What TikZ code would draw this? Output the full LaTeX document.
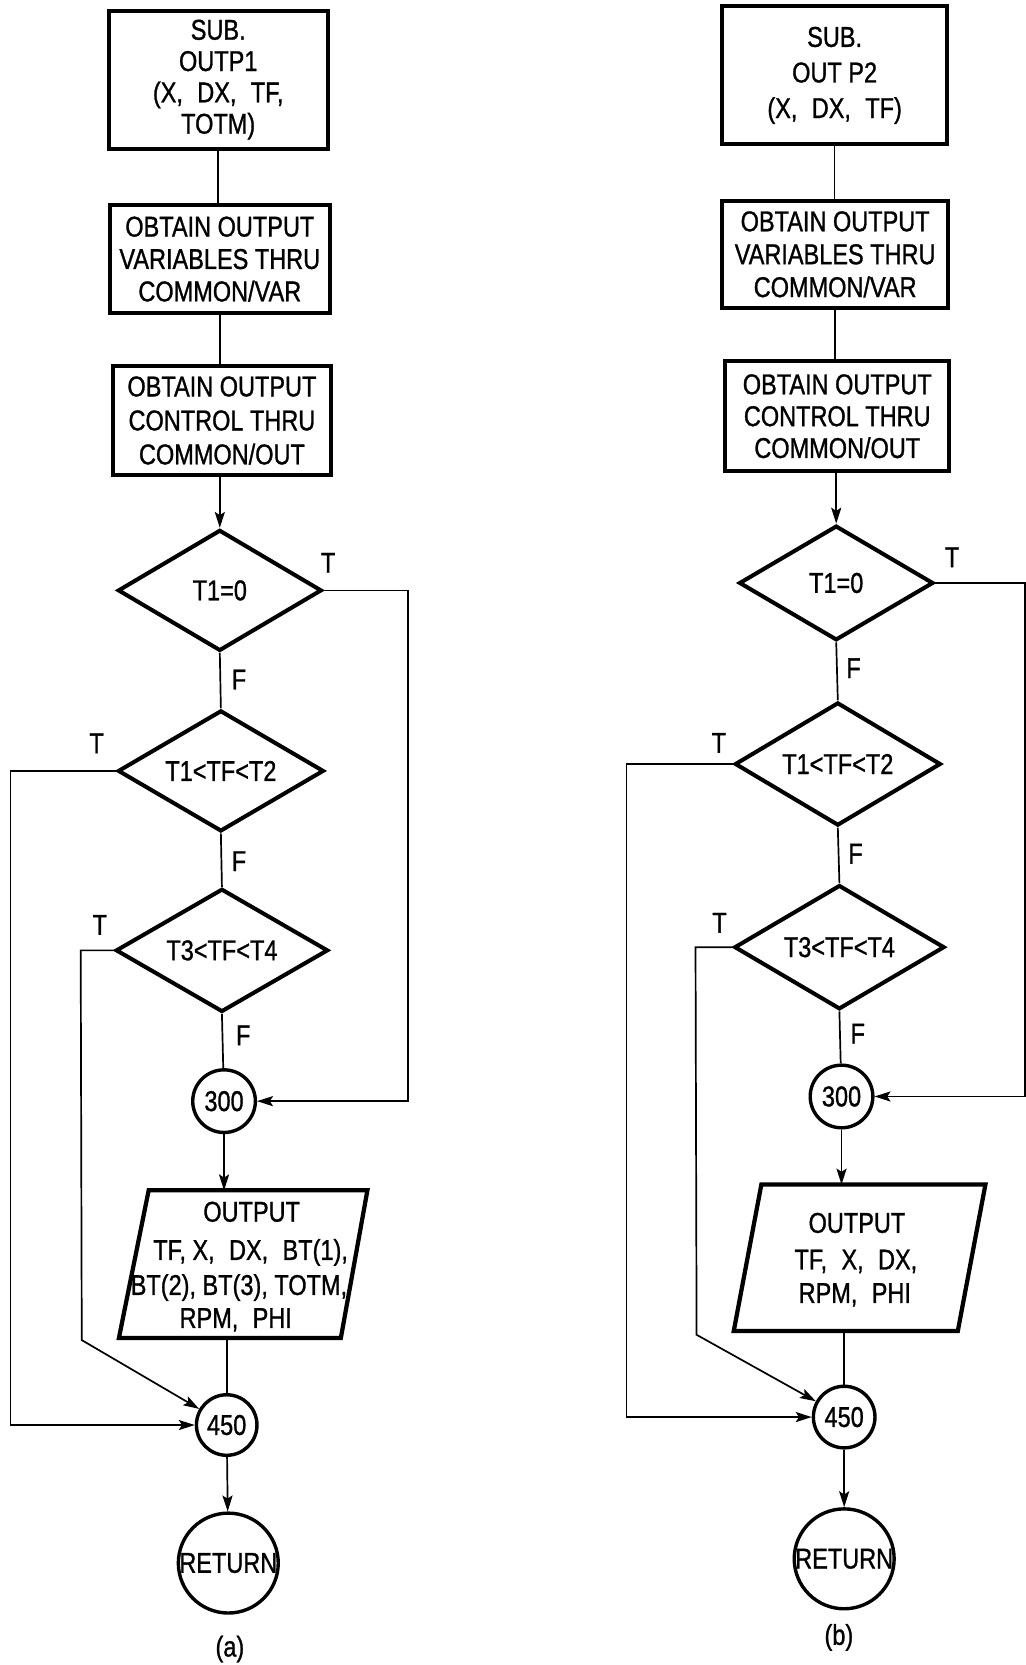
\documentclass[tikz,border=0pt]{standalone}
\usepackage{fontspec}
\setmainfont{Liberation Sans}[FakeStretch=0.82,FakeBold=1]
\usetikzlibrary{shapes.geometric,arrows.meta}
\begin{document}
\begin{tikzpicture}[x=1pt,y=-1pt,
  every node/.style={font=\fontsize{27}{31}\selectfont},
  box/.style={draw, line width=3.8pt, rectangle, inner sep=0pt, align=center},
  dec/.style={draw, line width=3.8pt, diamond, aspect=1.7, inner sep=0pt},
  con/.style={draw, line width=3.2pt, circle, inner sep=0pt},
  para/.style={draw, line width=4pt, line join=miter},
  conn/.style={line width=1.6pt},
  arr/.style={conn, -{Stealth[length=15pt,width=9.5pt,inset=3pt]}},
  lbl/.style={inner sep=0pt},
  txt/.style={inner sep=0pt, anchor=base},
]
\useasboundingbox (0,0) rectangle (966,1568);

% ---------------- (a) ----------------
\node[box, minimum width=206pt, minimum height=130pt, font=\fontsize{27}{29.5}\selectfont] (bA1) at (205.5,75)
  {SUB.\\OUTP1\\(X,\enspace DX,\enspace TF,\\TOTM)};
\node[box, minimum width=207pt, minimum height=102pt, font=\fontsize{27}{30.5}\selectfont] (bA2) at (207,244)
  {OBTAIN OUTPUT\\VARIABLES THRU\\COMMON/VAR};
\node[box, minimum width=206pt, minimum height=103pt, font=\fontsize{27}{32}\selectfont] (bA3) at (209,396)
  {OBTAIN OUTPUT\\CONTROL THRU\\COMMON/OUT};
\node[dec, minimum width=192pt, minimum height=114pt] (dA1) at (207,556) {T1=0};
\node[dec, minimum width=194pt, minimum height=114pt] (dA2) at (208,726) {T1<TF<T2};
\node[dec, minimum width=200pt, minimum height=116pt] (dA3) at (209,895) {T3<TF<T4};
\node[con, minimum size=59pt] (cA300) at (211,1037) {300};
\coordinate (pAtl) at (140,1121);
\coordinate (pAtr) at (346,1121);
\coordinate (pAbr) at (321,1260);
\coordinate (pAbl) at (112,1260);
\draw[para] (pAtl) -- (pAtr) -- (pAbr) -- (pAbl) -- cycle;
\node[txt] (oA1) at (237,1150.5) {OUTPUT};
\node[txt] (oA2) at (236,1186.5) {TF, X,\enspace DX,\enspace BT(1),};
\node[txt] (oA3) at (225,1219.5) {BT(2), BT(3), TOTM,};
\node[txt] (oA4) at (222,1250.5) {RPM,\enspace PHI};
\node[con, minimum size=57pt] (cA450) at (213.5,1342) {450};
\node[con, minimum size=93pt] (retA) at (215,1472) {RETURN};
\node[txt] (capA) at (216.5,1560) {(a)};

\node[lbl] (tA1) at (309,530) {T};
\node[lbl] (tA2) at (91,700) {T};
\node[lbl] (tA3) at (94,871) {T};
\node[lbl] (fA1) at (225,640) {F};
\node[lbl] (fA2) at (225,811) {F};
\node[lbl] (fA3) at (229,975) {F};

\coordinate (rA) at (384.5,556);
\coordinate (lA2) at (10,726);
\coordinate (lA3) at (76,895);
\coordinate (kA3) at (77,1262);

\draw[conn] (bA1.south) -- (bA1.south |- bA2.north);
\draw[conn] (bA2.south) -- (bA2.south |- bA3.north);
\draw[arr] (dA1.north |- bA3.south) -- (dA1.north);
\draw[conn] (dA1.south) -- (dA2.north);
\draw[conn] (dA2.south) -- (dA3.north);
\draw[conn] (dA3.south) -- (cA300);
\draw[arr] (cA300) -- (cA300 |- pAtl);
\draw[conn] (cA450 |- pAbl) -- (cA450);
\draw[arr] (cA450) -- (retA);
\draw[arr] (dA1.east) -- (rA) |- (cA300);
\draw[arr] (dA2.west) -- (lA2) |- (cA450);
\draw[arr] (dA3.west) -- (lA3) -- (kA3) -- (cA450);

% ---------------- (b) ----------------
\node[box, minimum width=212pt, minimum height=130pt, font=\fontsize{27}{33.5}\selectfont] (bB1) at (786,71)
  {SUB.\\OUT P2\\(X,\enspace DX,\enspace TF)};
\node[box, minimum width=213pt, minimum height=101pt, font=\fontsize{27}{31}\selectfont] (bB2) at (786.5,239.5)
  {OBTAIN OUTPUT\\VARIABLES THRU\\COMMON/VAR};
\node[box, minimum width=211pt, minimum height=104pt, font=\fontsize{27}{30}\selectfont] (bB3) at (788.5,392)
  {OBTAIN OUTPUT\\CONTROL THRU\\COMMON/OUT};
\node[dec, minimum width=183pt, minimum height=108pt] (dB1) at (787.5,549) {T1=0};
\node[dec, minimum width=194pt, minimum height=116pt] (dB2) at (789,719.5) {T1<TF<T2};
\node[dec, minimum width=198pt, minimum height=117pt] (dB3) at (790.5,892) {T3<TF<T4};
\node[con, minimum size=59pt] (cB300) at (792.5,1032.6) {300};
\coordinate (pBtl) at (717,1115.5);
\coordinate (pBtr) at (928,1115.5);
\coordinate (pBbr) at (902,1253.5);
\coordinate (pBbl) at (691,1253.5);
\draw[para] (pBtl) -- (pBtr) -- (pBbr) -- (pBbl) -- cycle;
\node[txt] (oB1) at (807,1161) {OUTPUT};
\node[txt] (oB2) at (806,1195.5) {TF,\enspace X,\enspace DX,};
\node[txt] (oB3) at (805,1227) {RPM,\enspace PHI};
\node[con, minimum size=58pt] (cB450) at (795,1334.5) {450};
\node[con, minimum size=93pt] (retB) at (795,1468) {RETURN};
\node[txt] (capB) at (790,1549) {(b)};

\node[lbl] (tB1) at (896.6,524.8) {T};
\node[lbl] (tB2) at (677,699.6) {T};
\node[lbl] (tB3) at (677.6,869) {T};
\node[lbl] (fB1) at (803.8,629.3) {F};
\node[lbl] (fB2) at (805.7,804) {F};
\node[lbl] (fB3) at (807.8,973.5) {F};

\coordinate (rB) at (965,549);
\coordinate (lB2) at (590,719.5);
\coordinate (lB3) at (655,892);
\coordinate (kB3) at (656,1257);

\draw[conn] (bB1.south) -- (bB1.south |- bB2.north);
\draw[conn] (bB2.south) -- (bB2.south |- bB3.north);
\draw[arr] (dB1.north |- bB3.south) -- (dB1.north);
\draw[conn] (dB1.south) -- (dB2.north);
\draw[conn] (dB2.south) -- (dB3.north);
\draw[conn] (dB3.south) -- (cB300);
\draw[arr] (cB300) -- (cB300 |- pBtl);
\draw[conn] (cB450 |- pBbl) -- (cB450);
\draw[arr] (cB450) -- (retB);
\draw[arr] (dB1.east) -- (rB) |- (cB300);
\draw[arr] (dB2.west) -- (lB2) |- (cB450);
\draw[arr] (dB3.west) -- (lB3) -- (kB3) -- (cB450);
\end{tikzpicture}
\end{document}
